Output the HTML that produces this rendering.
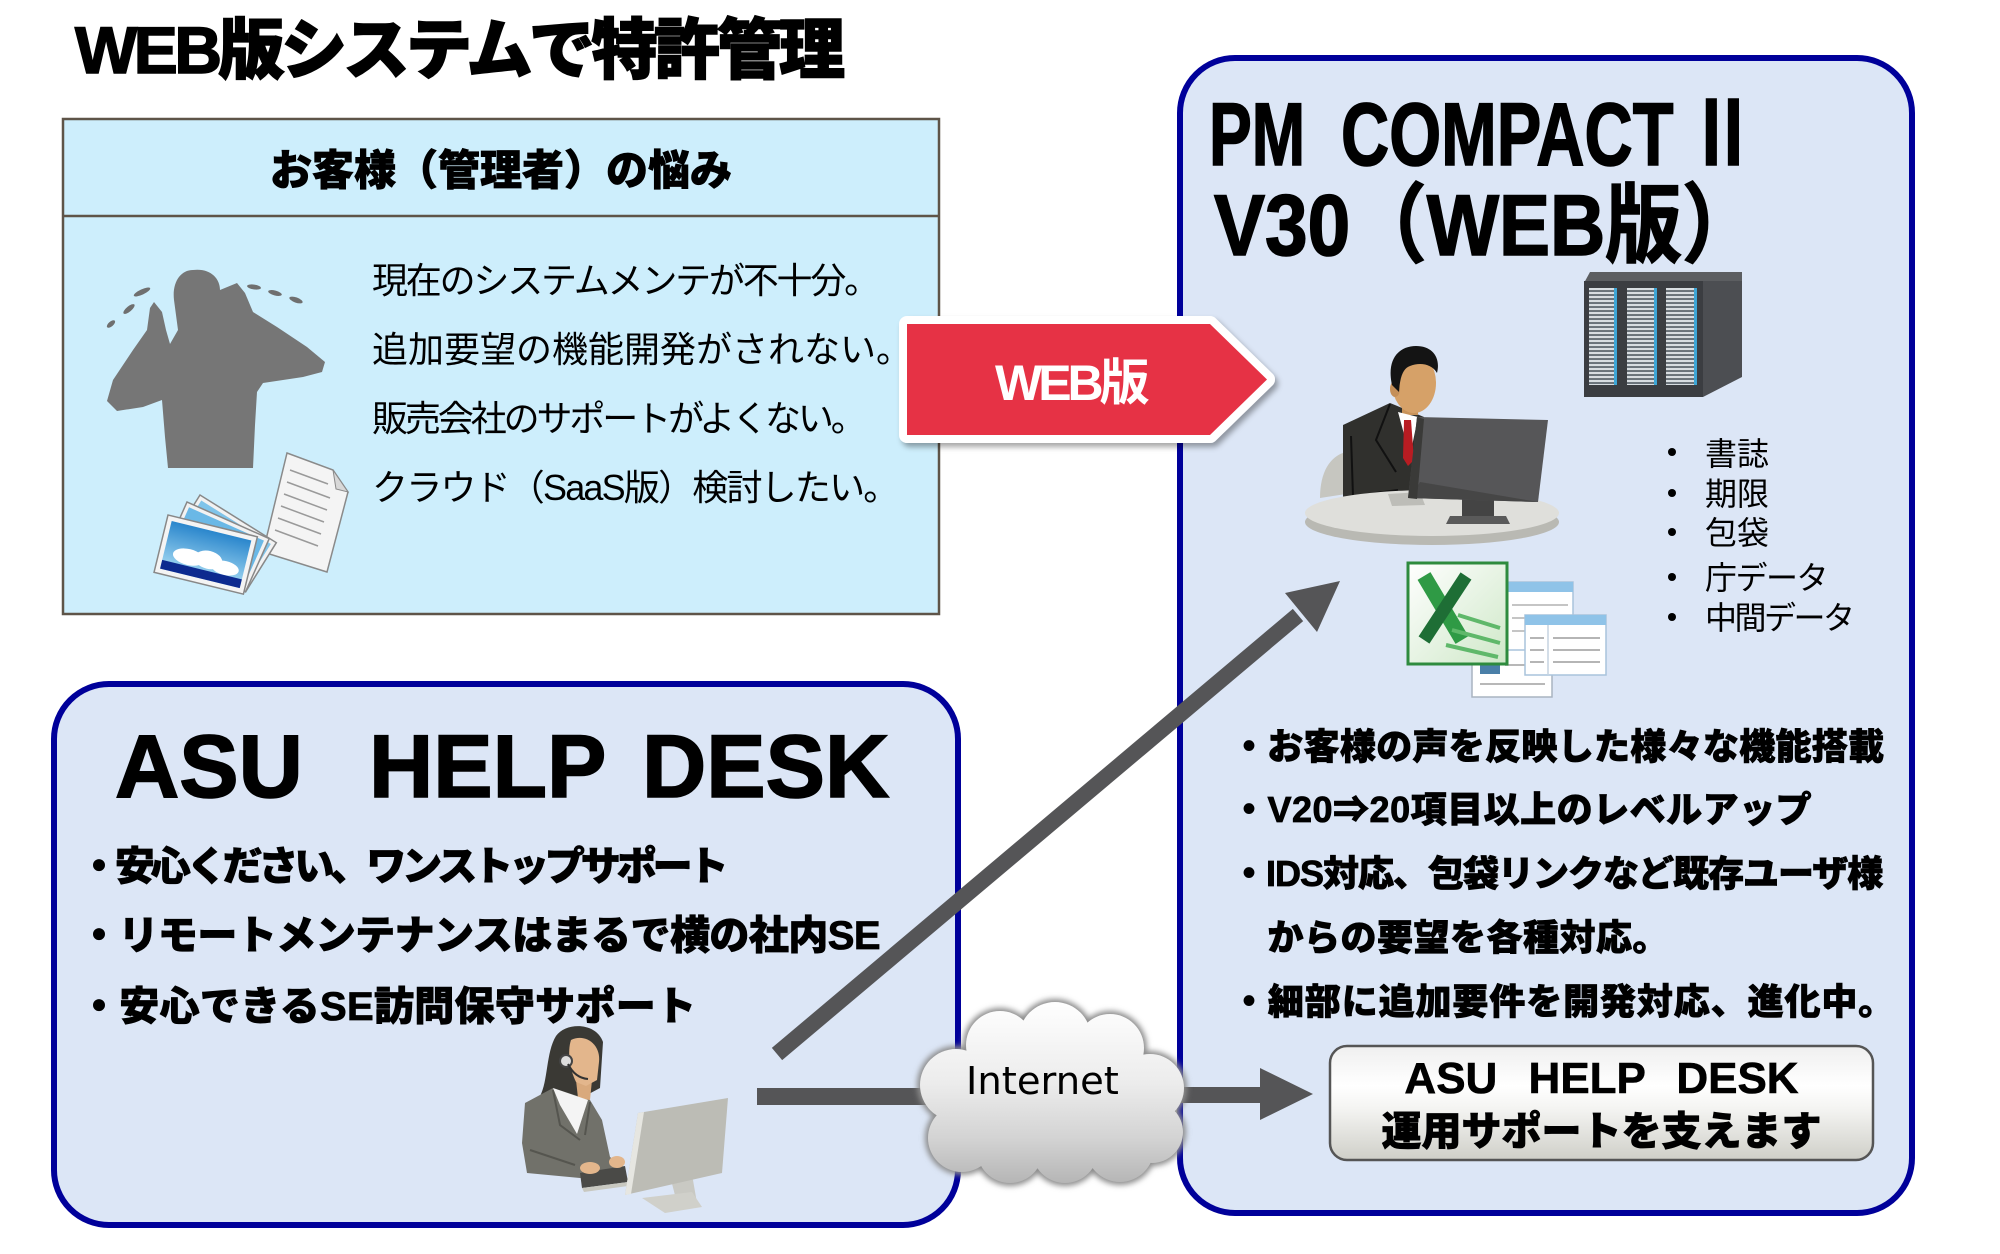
<!DOCTYPE html>
<html><head><meta charset="utf-8">
<style>
html,body{margin:0;padding:0;background:#fff;}
#c{position:relative;width:2000px;height:1254px;overflow:hidden;background:#fff;}
svg{position:absolute;left:0;top:0;}
.t{position:absolute;white-space:nowrap;line-height:1;font-family:"Liberation Sans","Noto Sans CJK JP",sans-serif;color:#000;}
.b{font-weight:700;}
.k{font-weight:900;-webkit-text-stroke:0.8px #000;}
.h{-webkit-text-stroke:1.6px #000;}
</style></head><body><div id="c">
<svg width="2000" height="1254" viewBox="0 0 2000 1254">
<defs>
<linearGradient id="cg" gradientUnits="userSpaceOnUse" x1="0" y1="1000" x2="0" y2="1185">
<stop offset="0" stop-color="#ffffff"/><stop offset="0.45" stop-color="#ececec"/><stop offset="0.75" stop-color="#d3d3d3"/><stop offset="1" stop-color="#b4b4b4"/></linearGradient>
<linearGradient id="bg" x1="0" y1="0" x2="0" y2="1">
<stop offset="0" stop-color="#efefef"/><stop offset="0.35" stop-color="#ffffff"/><stop offset="0.55" stop-color="#f4f4f2"/><stop offset="1" stop-color="#cfcfc8"/></linearGradient>
<linearGradient id="xg" x1="0" y1="0" x2="1" y2="1">
<stop offset="0" stop-color="#ffffff"/><stop offset="1" stop-color="#cfe8c8"/></linearGradient>
<linearGradient id="sky" x1="0" y1="0" x2="0" y2="1">
<stop offset="0" stop-color="#2a86cc"/><stop offset="1" stop-color="#a8dcf4"/></linearGradient>
<pattern id="slat" patternUnits="userSpaceOnUse" width="4" height="4">
<rect x="0" y="0" width="4" height="2.2" fill="#d8dde1"/><rect x="0" y="2.2" width="4" height="1.8" fill="#6a737b"/></pattern>
<filter id="bl" x="-20%" y="-20%" width="140%" height="140%"><feGaussianBlur stdDeviation="3"/></filter>
<filter id="sh" x="-10%" y="-20%" width="130%" height="150%"><feDropShadow dx="3" dy="4" stdDeviation="3" flood-color="#000" flood-opacity="0.35"/></filter>
</defs>

<!-- boxes -->
<rect x="63" y="119" width="876" height="495" fill="#cdeefc" stroke="#5e5448" stroke-width="2.5"/>
<line x1="63" y1="216" x2="939" y2="216" stroke="#5e5448" stroke-width="2.5"/>
<rect x="1180" y="58" width="732" height="1155" rx="55" fill="#dce6f6" stroke="#00009a" stroke-width="6"/>
<rect x="54" y="684" width="904" height="541" rx="55" fill="#dce6f6" stroke="#00009a" stroke-width="6"/>

<!-- silhouette -->
<path d="M193,270 C210,268 220,278 220,290 L237,283 L245,293 L253,312 L277,327 L307,347 L325,362 L322,372 L303,377 L263,383 L257,392 L255,425 L253,468 L168,468 L165,437 L162,400 L143,407 L117,411 L107,401 L113,380 L133,350 L147,330 L150,308 L154,302 L162,312 L166,330 L170,344 L178,330 L174,300 C172,283 180,270 193,270 Z" fill="#767676"/>
<g fill="#6f6f6f">
<ellipse cx="142" cy="292" rx="9" ry="2.6" transform="rotate(-25 142 292)"/>
<ellipse cx="129" cy="309" rx="7" ry="2.6" transform="rotate(-40 129 309)"/>
<ellipse cx="111" cy="324" rx="5" ry="2.4" transform="rotate(-40 111 324)"/>
<ellipse cx="254" cy="287" rx="7" ry="2.4" transform="rotate(8 254 287)"/>
<ellipse cx="275" cy="293" rx="7" ry="2.4" transform="rotate(15 275 293)"/>
<ellipse cx="296" cy="300" rx="7" ry="2.6" transform="rotate(20 296 300)"/>
</g>
<!-- files icon -->
<polygon points="287,453 333,470 348,492 327,572 263,552" fill="#f4f4f4" stroke="#8a8a8a" stroke-width="1.5"/>
<polygon points="333,470 348,492 336,489" fill="#d8d8d8" stroke="#8a8a8a" stroke-width="1"/>
<g stroke="#9a9a9a" stroke-width="1.5">
<line x1="290" y1="470" x2="328" y2="484"/><line x1="287" y1="482" x2="330" y2="498"/><line x1="284" y1="494" x2="327" y2="510"/><line x1="281" y1="506" x2="324" y2="522"/><line x1="278" y1="518" x2="321" y2="534"/><line x1="275" y1="530" x2="318" y2="546"/>
</g>
<g transform="translate(200,495) rotate(32)"><rect x="0" y="0" width="90" height="58" fill="#f2f2f2" stroke="#888" stroke-width="1.5"/><rect x="4" y="4" width="82" height="50" fill="#7fc4ea"/></g>
<g transform="translate(187,502) rotate(24)"><rect x="0" y="0" width="90" height="58" fill="#f2f2f2" stroke="#888" stroke-width="1.5"/><rect x="4" y="4" width="82" height="50" fill="#6ab8e6"/></g>
<g transform="translate(168,515) rotate(13.7)">
<rect x="0" y="0" width="92" height="59" fill="#f4f4f4" stroke="#888" stroke-width="1.5"/>
<rect x="5" y="5" width="82" height="49" fill="url(#sky)"/>
<ellipse cx="30" cy="36" rx="16" ry="8" fill="#fff"/><ellipse cx="50" cy="34" rx="14" ry="9" fill="#fff"/><ellipse cx="68" cy="38" rx="14" ry="7" fill="#fff"/>
<rect x="5" y="45" width="82" height="9" fill="#0d2a8f"/>
</g>

<!-- server -->
<polygon points="1584,283 1590,272 1742,272 1742,283" fill="#5c5e61"/>
<rect x="1584" y="281" width="119" height="116" fill="#3b3d41"/>
<polygon points="1703,281 1742,281 1742,377 1703,397" fill="#4c4e52"/>
<rect x="1589" y="288" width="28" height="97" fill="url(#slat)"/><rect x="1614" y="288" width="3" height="97" fill="#3ea6d6"/>
<rect x="1627" y="288" width="30" height="97" fill="url(#slat)"/><rect x="1654" y="288" width="3" height="97" fill="#3ea6d6"/>
<rect x="1666" y="288" width="31" height="97" fill="url(#slat)"/><rect x="1694" y="288" width="3" height="97" fill="#3ea6d6"/>

<!-- businessman -->
<path d="M1320,498 C1320,472 1330,456 1346,452 L1346,494 Z" fill="#c6c6c0"/>
<path d="M1343,425 L1390,403 L1424,417 L1414,500 L1343,500 Z" fill="#30302d"/>
<path d="M1390,404 L1376,440 L1396,472 M1351,436 L1353,496 L1398,490" stroke="#111" stroke-width="2" fill="none"/>
<rect x="1402" y="400" width="16" height="15" fill="#c8935a"/>
<polygon points="1398,412 1418,417 1410,456" fill="#fff"/>
<polygon points="1404,420 1411,420 1414,460 1408,466 1403,458" fill="#b81c22"/>
<ellipse cx="1414" cy="383" rx="22" ry="30" fill="#d6a168"/>
<ellipse cx="1395" cy="389" rx="5" ry="8" fill="#c58f58"/>
<path d="M1392,385 C1386,358 1400,346 1416,346 C1432,346 1441,357 1437,373 C1432,364 1420,362 1410,366 C1404,368 1400,375 1399,392 Z" fill="#141414"/>
<ellipse cx="1432" cy="522" rx="127" ry="23" fill="#b9b9b3"/>
<ellipse cx="1432" cy="513" rx="127" ry="23" fill="#dfdfdb"/>
<polygon points="1388,494 1420,492 1425,505 1392,506" fill="#bdbdb8"/>
<polygon points="1462,498 1494,500 1494,518 1462,518" fill="#444"/>
<polygon points="1450,516 1506,516 1510,524 1446,524" fill="#5a5a5a"/>
<polygon points="1417,417 1548,420 1538,502 1408,498" fill="#565658"/>
<polygon points="1420,482 1538,502 1410,498" fill="#464646"/>
<polygon points="1408,498 1417,417 1424,419 1417,499" fill="#3a3a38"/>

<!-- excel & sheets -->
<rect x="1472" y="638" width="80" height="59" fill="#fff" stroke="#a9b4c0" stroke-width="1.5"/>
<rect x="1480" y="662" width="20" height="12" fill="#4a7fa8"/>
<g stroke="#b8b8b8" stroke-width="2"><line x1="1505" y1="665" x2="1540" y2="665"/><line x1="1480" y1="684" x2="1545" y2="684"/></g>
<rect x="1507" y="582" width="66" height="68" fill="#fff" stroke="#a9c3dc" stroke-width="1.5"/>
<rect x="1507" y="582" width="66" height="10" fill="#8fc3e8"/>
<g stroke="#c5c5c5" stroke-width="2"><line x1="1512" y1="605" x2="1568" y2="605"/><line x1="1512" y1="618" x2="1568" y2="618"/><line x1="1512" y1="631" x2="1568" y2="631"/></g>
<rect x="1525" y="615" width="81" height="60" fill="#fff" stroke="#a9c3dc" stroke-width="1.5"/>
<rect x="1525" y="615" width="81" height="10" fill="#8fc3e8"/>
<line x1="1548" y1="625" x2="1548" y2="675" stroke="#c5d3e0" stroke-width="1.5"/>
<g stroke="#b5b5b5" stroke-width="2"><line x1="1530" y1="638" x2="1544" y2="638"/><line x1="1553" y1="638" x2="1600" y2="638"/><line x1="1530" y1="650" x2="1544" y2="650"/><line x1="1553" y1="650" x2="1600" y2="650"/><line x1="1530" y1="662" x2="1544" y2="662"/><line x1="1553" y1="662" x2="1600" y2="662"/></g>
<rect x="1408" y="563" width="99" height="101" fill="url(#xg)" stroke="#2e8b3e" stroke-width="3"/>
<line x1="1424" y1="576" x2="1462" y2="640" stroke="#2f9a45" stroke-width="15"/>
<line x1="1466" y1="576" x2="1424" y2="640" stroke="#1e6e35" stroke-width="13"/>
<g stroke="#5fb86a" stroke-width="4"><line x1="1458" y1="615" x2="1500" y2="628"/><line x1="1452" y1="630" x2="1500" y2="643"/><line x1="1446" y1="645" x2="1498" y2="657"/></g>

<!-- woman -->
<path d="M556,1036 C566,1022 596,1022 603,1042 L600,1088 L585,1096 L540,1096 C548,1082 546,1052 556,1036 Z" fill="#3a3934"/>
<polygon points="525,1103 553,1088 590,1100 602,1120 610,1157 623,1167 600,1177 580,1178 527,1173 522,1143" fill="#71716a"/>
<path d="M553,1090 L560,1125 L580,1140 M590,1102 L585,1135 M530,1150 L575,1165" stroke="#55554f" stroke-width="2" fill="none"/>
<polygon points="576,1080 592,1080 590,1100 578,1098" fill="#d9a97c"/>
<polygon points="553,1088 588,1100 577,1134 560,1105" fill="#f4f4f4"/>
<path d="M571,1040 C585,1033 601,1044 599,1062 L597,1080 L586,1086 L576,1082 C570,1070 567,1052 571,1040 Z" fill="#e3b68c"/>
<circle cx="566" cy="1061" r="6" fill="#ddd" stroke="#444" stroke-width="2"/>
<path d="M568,1064 Q575,1078 588,1079" stroke="#333" stroke-width="2" fill="none"/>
<polygon points="580,1173 625,1166 628,1182 582,1188" fill="#4a4a47"/>
<polygon points="582,1188 628,1182 628,1186 584,1192" fill="#c8c8c0"/>
<ellipse cx="590" cy="1168" rx="10" ry="6" fill="#e3b68c"/>
<ellipse cx="617" cy="1162" rx="8" ry="6" fill="#e3b68c"/>
<polygon points="668,1168 690,1163 697,1203 678,1207" fill="#c9c9c3"/>
<polygon points="642,1198 692,1192 702,1207 665,1213" fill="#d0d0ca"/>
<polygon points="638,1113 728,1098 722,1173 625,1195" fill="#bcbcb5"/>
<polygon points="625,1195 638,1113 644,1112 631,1194" fill="#e6e6e1"/>

<!-- red arrow -->
<g filter="url(#sh)"><polygon points="907,324 1210,324 1267,379.5 1210,435 907,435" fill="#fff" stroke="#fff" stroke-width="16" stroke-linejoin="round"/></g>
<polygon points="907,324 1210,324 1267,379.5 1210,435 907,435" fill="#e63245"/>

<!-- diagonal arrow -->
<line x1="777" y1="1054" x2="1298" y2="615" stroke="#555557" stroke-width="16"/>
<polygon points="1340,581 1285,593 1317,632" fill="#555557"/>

<!-- horizontal connectors -->
<rect x="757" y="1088" width="180" height="17" fill="#555557"/>
<rect x="1175" y="1087" width="88" height="16" fill="#555557"/>
<polygon points="1260,1068 1313,1094 1260,1120" fill="#555557"/>

<!-- cloud -->
<g fill="#8c8c8c" filter="url(#bl)">
<circle cx="1000" cy="1045" r="37"/><circle cx="1055" cy="1038" r="39"/><circle cx="1110" cy="1048" r="37"/>
<circle cx="956" cy="1085" r="39"/><circle cx="1150" cy="1088" r="37"/>
<circle cx="962" cy="1138" r="37"/><circle cx="1010" cy="1150" r="36"/><circle cx="1065" cy="1150" r="36"/><circle cx="1120" cy="1148" r="37"/><circle cx="1152" cy="1132" r="34"/>
<ellipse cx="1052" cy="1095" rx="110" ry="62"/>
</g>
<g fill="url(#cg)">
<circle cx="1000" cy="1045" r="34"/><circle cx="1055" cy="1038" r="36"/><circle cx="1110" cy="1048" r="34"/>
<circle cx="956" cy="1085" r="36"/><circle cx="1150" cy="1088" r="34"/>
<circle cx="962" cy="1138" r="34"/><circle cx="1010" cy="1150" r="33"/><circle cx="1065" cy="1150" r="33"/><circle cx="1120" cy="1148" r="34"/><circle cx="1152" cy="1132" r="31"/>
<ellipse cx="1052" cy="1095" rx="108" ry="60"/>
</g>

<!-- help desk button -->
<rect x="1330" y="1046" width="543" height="114" rx="17" fill="url(#bg)" stroke="#555" stroke-width="2.5"/>

<!-- list bullets -->
<g fill="#000"><circle cx="1672" cy="452" r="4"/><circle cx="1672" cy="493" r="4"/><circle cx="1672" cy="532" r="4"/><circle cx="1672" cy="577" r="4"/><circle cx="1672" cy="617" r="4"/></g>
</svg>

<!-- title -->
<div class="t k h" style="left:75px;top:16.5px;font-size:66px;letter-spacing:-3.5px;">WEB版システムで特許管理</div>

<!-- top-left box -->
<div class="t k" style="left:63px;width:876px;text-align:center;top:150px;font-size:42px;">お客様（管理者）の悩み</div>
<div class="t" style="left:372px;top:262.5px;font-size:36px;letter-spacing:-2.2px;">現在のシステムメンテが不十分。</div>
<div class="t" style="left:372px;top:332px;font-size:36px;letter-spacing:0px;">追加要望の機能開発がされない。</div>
<div class="t" style="left:372px;top:401px;font-size:36px;letter-spacing:-3.1px;">販売会社のサポートがよくない。</div>
<div class="t" style="left:372px;top:470px;font-size:36px;letter-spacing:-1.8px;">クラウド（SaaS版）検討したい。</div>

<!-- red arrow text -->
<div class="t b" style="left:995px;top:357.5px;font-size:50px;letter-spacing:-4px;color:#fff;">WEB版</div>

<!-- right box title -->
<div class="t b h" style="left:1209px;top:90px;font-size:89px;transform:scaleX(.72);transform-origin:0 0;">PM</div>
<div class="t b h" style="left:1341px;top:90px;font-size:89px;transform:scaleX(.75);transform-origin:0 0;">COMPACT</div>
<div class="t b h" style="left:1689px;top:90px;font-size:89px;transform:scaleX(.75);transform-origin:0 0;">Ⅱ</div>
<div class="t b h" style="left:1214px;top:183px;font-size:86px;transform:scaleX(.89);transform-origin:0 0;">V30（WEB版）</div>

<!-- right list -->
<div class="t" style="left:1705px;top:437.5px;font-size:32px;">書誌</div>
<div class="t" style="left:1705px;top:478px;font-size:32px;">期限</div>
<div class="t" style="left:1705px;top:517px;font-size:32px;">包袋</div>
<div class="t" style="left:1705px;top:562px;font-size:32px;letter-spacing:-1.5px;">庁データ</div>
<div class="t" style="left:1705px;top:601.5px;font-size:32px;letter-spacing:-2.5px;">中間データ</div>

<!-- right bold bullets -->
<div class="t k" style="left:1231px;top:728.5px;font-size:36px;letter-spacing:0.3px;">・お客様の声を反映した様々な機能搭載</div>
<div class="t k" style="left:1231px;top:792px;font-size:36px;letter-spacing:0.5px;">・V20⇒20項目以上のレベルアップ</div>
<div class="t k" style="left:1231px;top:856px;font-size:36px;letter-spacing:-1px;">・IDS対応、包袋リンクなど既存ユーザ様</div>
<div class="t k" style="left:1231px;top:920px;font-size:36px;letter-spacing:0.5px;">　からの要望を各種対応。</div>
<div class="t k" style="left:1231px;top:984px;font-size:36px;letter-spacing:0.9px;">・細部に追加要件を開発対応、進化中。</div>

<!-- bottom-left box -->
<div class="t b h" style="left:115px;top:722px;font-size:89px;">ASU</div>
<div class="t b h" style="left:369px;top:722px;font-size:89px;">HELP</div>
<div class="t b h" style="left:642px;top:722px;font-size:89px;">DESK</div>
<div class="t k" style="left:79px;top:846.7px;font-size:40px;letter-spacing:-4.1px;">・安心ください、ワンストップサポート</div>
<div class="t k" style="left:79px;top:915.7px;font-size:40px;letter-spacing:-0.55px;">・リモートメンテナンスはまるで横の社内SE</div>
<div class="t k" style="left:79px;top:986.7px;font-size:40px;letter-spacing:0.3px;">・安心できるSE訪問保守サポート</div>

<!-- cloud text -->
<div class="t" style="left:966px;top:1063px;font-size:38.5px;font-family:'DejaVu Sans','Liberation Sans',sans-serif;">Internet</div>

<!-- button text -->
<div class="t b" style="left:1330px;width:543px;text-align:center;top:1057px;font-size:44px;word-spacing:19px;-webkit-text-stroke:0.6px #000;">ASU HELP DESK</div>
<div class="t k" style="left:1330px;width:543px;text-align:center;top:1111.7px;font-size:40px;">運用サポートを支えます</div>
</div></body></html>
